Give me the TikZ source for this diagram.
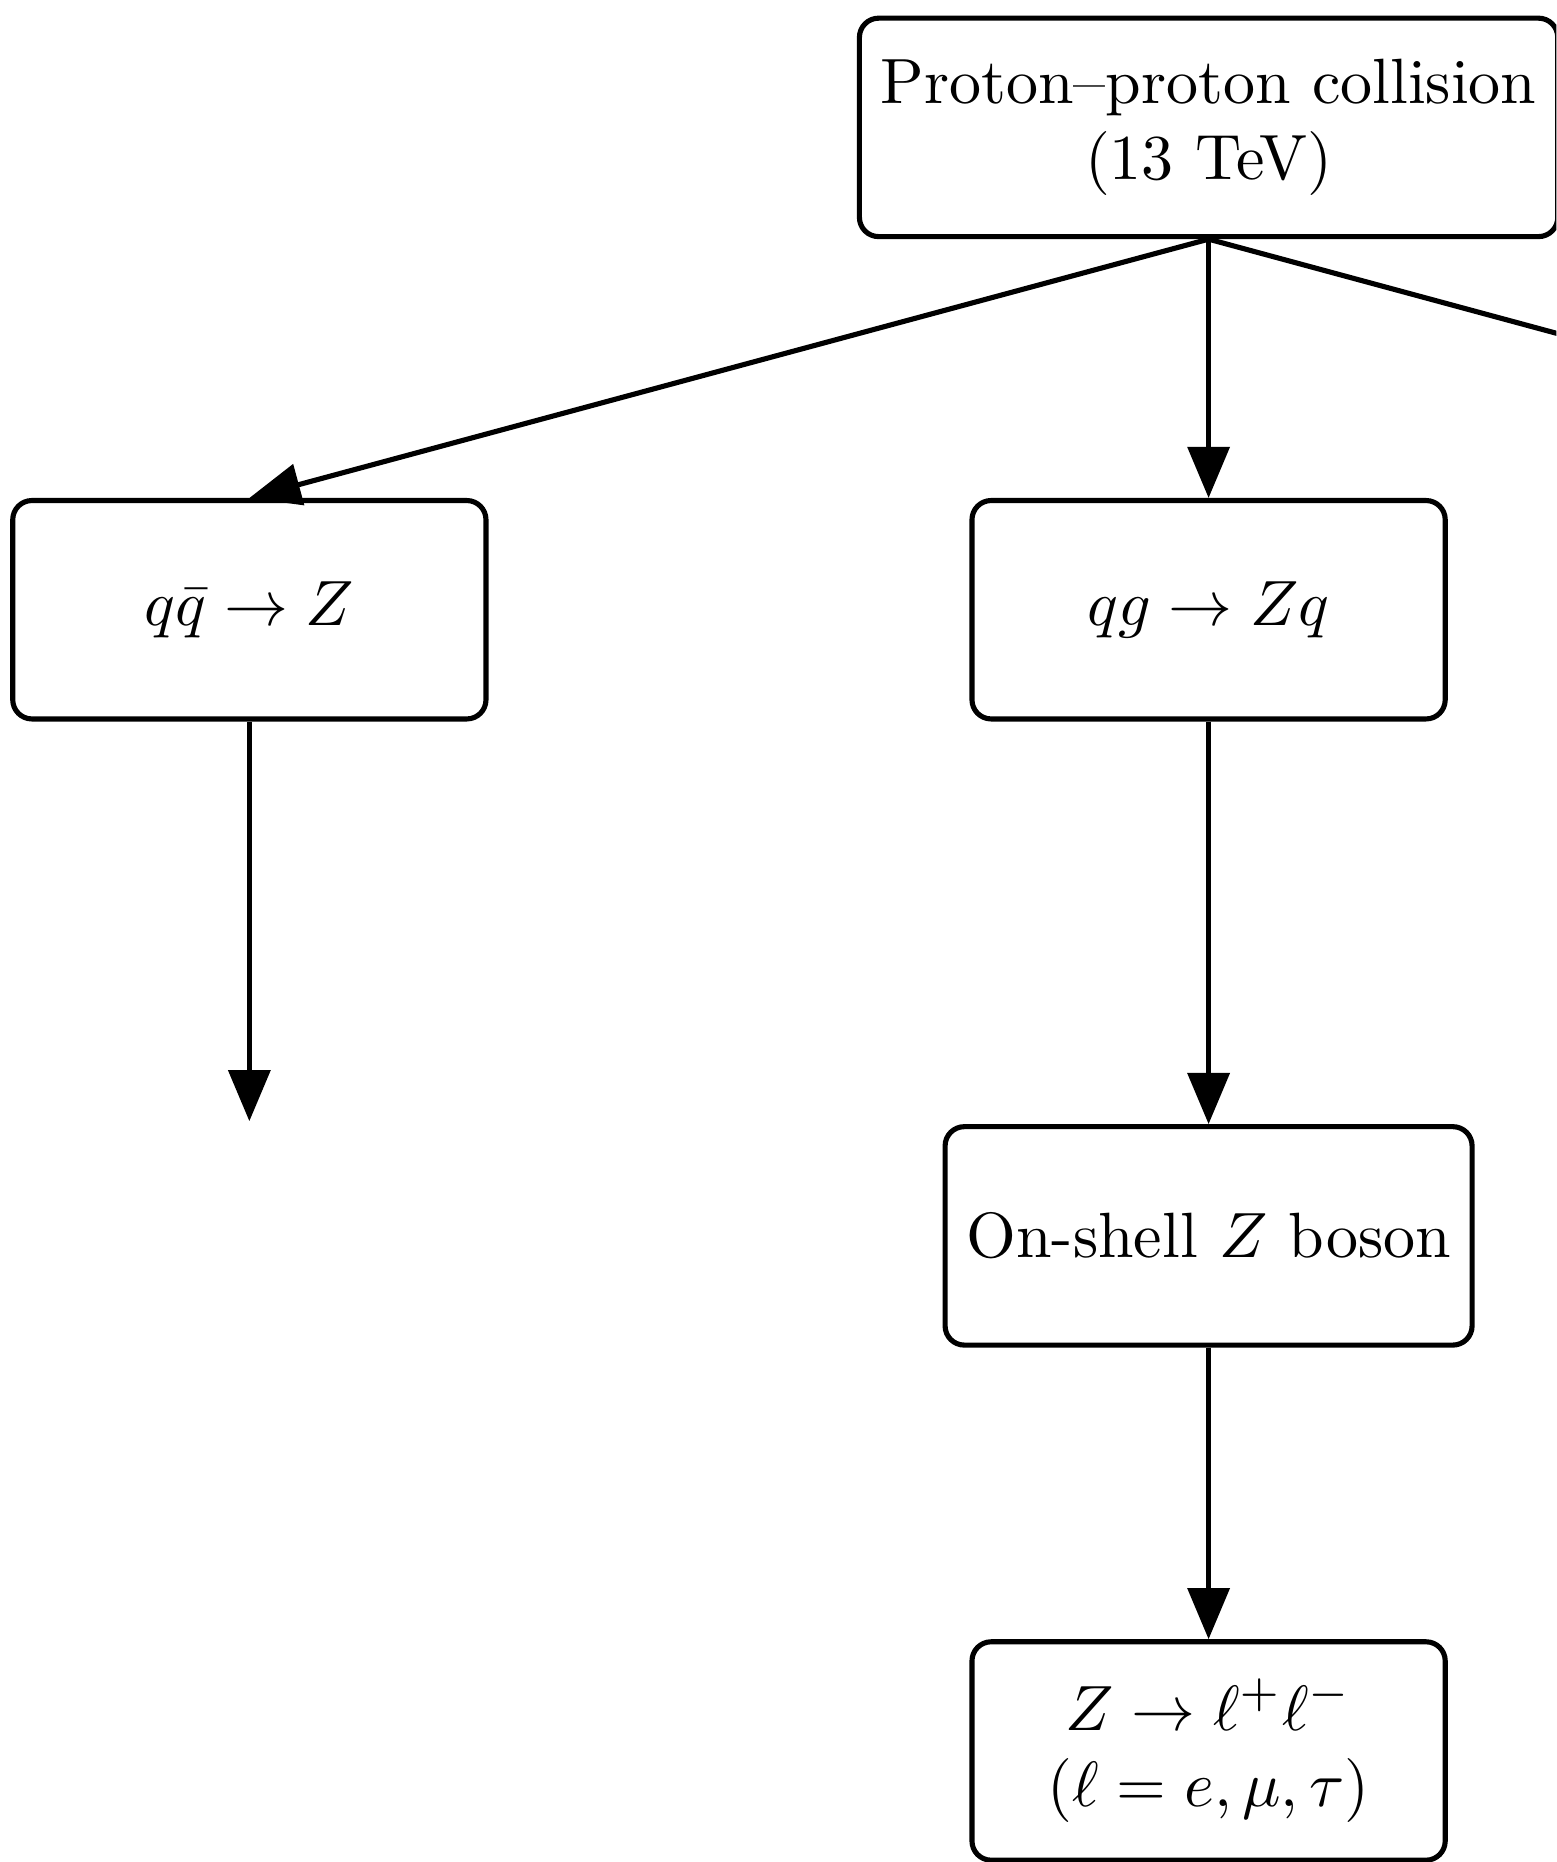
\documentclass[tikz,border=0pt]{standalone}
\usepackage{amsmath, amssymb}
\usepackage{tikz}
\usetikzlibrary{arrows.meta}

\begin{document}
\begin{tikzpicture}[
    box/.style={draw, thick, rounded corners=3pt, minimum width=2.6cm, minimum height=1.2cm, align=center},
    flow/.style={-{Triangle[length=8pt, width=6.5pt]}, thick}
  ]
    % Fix the frame (the picture is cut on the right and at the bottom)
    \useasboundingbox (0,0) rectangle (8.55,-10.23);
    \clip (0,0) rectangle (8.55,-10.23);

    % Draw the boxes
    \node[box] (proton) at (6.64,-0.70) {Proton--proton collision\\(13 TeV)};
    \node[box] (qqbar) at (1.37,-3.35) {$q\bar{q} \to Z$};
    \node[box] (qg) at (6.64,-3.35) {$qg \to Zq$};
    \node[box] (onshell) at (6.64,-6.79) {On-shell $Z$ boson};
    \node[box] (decay) at (6.64,-9.62) {$Z \to \ell^+\ell^-$\\$(\ell = e, \mu, \tau)$};

    % Free ends of the arrows
    \coordinate (qqbarend) at (1.37,-6.16);
    \coordinate (rightend) at (11.91,-2.74);

    % Draw the arrows
    \draw[flow] (proton.south) -- (qqbar.north);
    \draw[flow] (proton.south) -- (qg.north);
    \draw[flow] (proton.south) -- (rightend);
    \draw[flow] (qqbar.south) -- (qqbarend);
    \draw[flow] (qg.south) -- (onshell.north);
    \draw[flow] (onshell.south) -- (decay.north);
\end{tikzpicture}
\end{document}
